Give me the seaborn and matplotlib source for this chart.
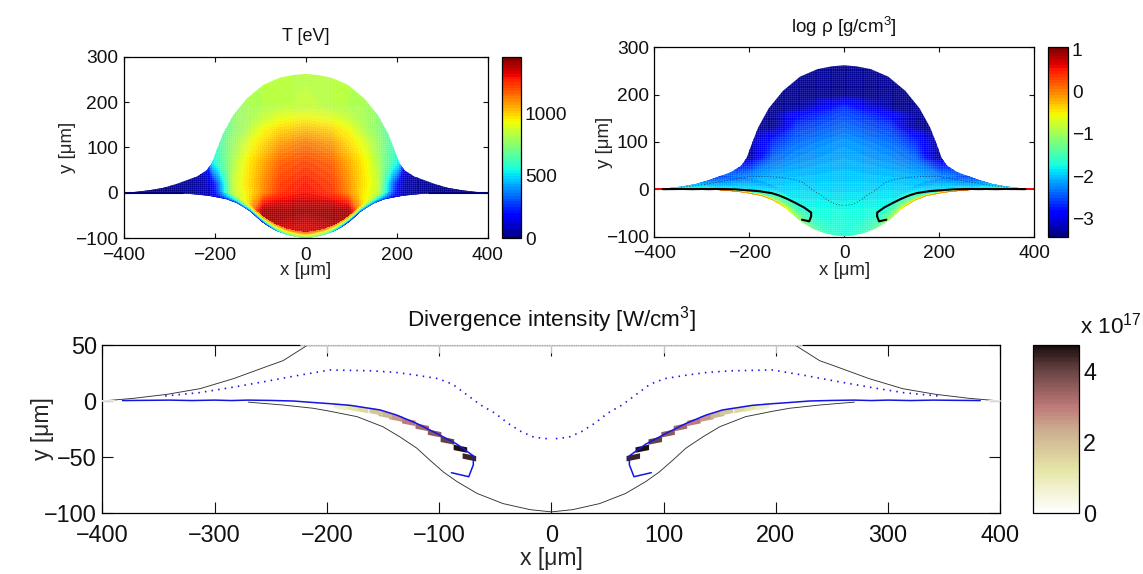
import numpy as np
import matplotlib
matplotlib.use("Agg")
import matplotlib.pyplot as plt
import seaborn as sns
from matplotlib.colors import LinearSegmentedColormap, Normalize
from matplotlib.cm import ScalarMappable
from matplotlib.patches import PathPatch
from matplotlib.path import Path

# ---------- outline of the plasma ----------
x_top = [0, 25, 56, 93, 129, 159, 181, 195, 206, 217, 239, 253, 283, 313, 342, 372, 400]
y_top = [262, 260, 254, 238, 208, 171, 131, 95, 65, 50, 36, 31, 20, 11, 6, 2.4, 0]
x_bot = [0, 19, 43, 66, 84, 96, 108, 120, 135, 150, 173, 197, 212, 239, 270, 330, 400]
y_bot = [-99, -97, -91.6, -82.6, -72, -63.5, -53, -42, -32, -23, -14, -9.2, -6.5, -3.6, -1, 0, 0]

# ---------- critical surface / ablation front ----------
x_front = [382, 360, 340, 320, 300, 285, 270, 250, 230, 210, 197, 179, 152.5, 138, 120, 102, 84,
           69.5, 69.5, 73.6, 89]
y_front = [0.4, 0.6, 0.8, 0.4, 0.8, 0.4, 0.8, 0.5, 0, -1.5, -2.4, -3.9, -8, -12.5, -20, -29, -38.6,
           -49, -57, -67.6, -64]
x_dots = [344, 314, 286, 256, 227, 197, 161, 139, 120, 101, 88, 75, 63, 50, 38.5, 26.7, 15.4, 0]
y_dots = [4.5, 7.4, 11.9, 17.2, 22.6, 27.7, 27, 25.6, 23, 20, 15, 5.4, -3.6, -11, -20, -27.4, -32.4, -34]

# ---------- temperature table ----------
T_x = [0, 56, 93, 115, 133, 150, 160, 175, 190, 205, 220, 260, 330, 400]
T_y = [-100, -60, -40, 0, 22, 65, 110, 140, 165, 190, 265]
T_vals = [
    [1300, 1280, 1250, 1000, 800, 600, 500, 400, 300, 200, 100, 50, 20, 10],
    [1340, 1380, 1390, 1100, 800, 600, 500, 400, 300, 200, 100, 50, 20, 10],
    [1390, 1400, 1400, 1130, 900, 700, 600, 450, 300, 200, 100, 50, 20, 10],
    [1290, 1240, 1110, 1000, 930, 870, 810, 580, 310, 120, 60, 30, 15, 10],
    [1270, 1220, 1100, 1010, 950, 885, 840, 600, 350, 150, 60, 30, 15, 10],
    [1210, 1170, 1060, 990, 930, 850, 800, 700, 610, 500, 150, 40, 15, 10],
    [1120, 1070, 980, 930, 880, 800, 770, 700, 630, 560, 300, 60, 20, 10],
    [1020, 985, 930, 860, 800, 770, 740, 680, 630, 560, 300, 60, 20, 10],
    [935, 905, 850, 810, 790, 770, 740, 680, 630, 560, 300, 60, 20, 10],
    [850, 830, 815, 800, 790, 770, 740, 680, 630, 560, 300, 60, 20, 10],
    [830, 825, 820, 810, 800, 770, 740, 680, 630, 560, 300, 60, 20, 10],
]
# thin layer above the lower edge, columns at x_bot
layer_d = [0, 3, 7, 12]
T_layer = [
    [700, 690, 600, 300, 120, 110, 130, 180, 220, 220, 180, 110, 70, 40, 20, 10, 10],
    [780, 760, 700, 500, 350, 300, 300, 350, 380, 360, 300, 150, 80, 40, 20, 10, 10],
    [950, 930, 880, 800, 700, 650, 650, 650, 620, 560, 430, 180, 90, 40, 20, 10, 10],
    [1150, 1130, 1100, 1050, 1050, 1050, 1030, 980, 880, 760, 520, 220, 90, 40, 20, 10, 10],
]

# ---------- density table ----------
R_x = [0, 100, 150, 200, 250, 300, 400]
R_y = [-100, -50, 0, 30, 60, 65, 100, 120, 130, 160, 170, 190, 197, 265]
R_vals = [
    [-1.65, -1.65, -1.6, -1.6, -1.6, -1.6, -1.6],
    [-1.72, -1.7, -1.7, -1.7, -1.7, -1.7, -1.7],
    [-1.92, -1.9, -1.92, -1.95, -1.95, -2.0, -2.4],
    [-2.0, -2.05, -2.1, -2.3, -2.45, -2.6, -2.7],
    [-2.08, -2.2, -2.35, -2.9, -2.9, -2.9, -2.9],
    [-2.1, -2.23, -2.38, -3.3, -3.3, -3.3, -3.3],
    [-2.2, -2.4, -2.7, -3.3, -3.3, -3.3, -3.3],
    [-2.32, -2.52, -2.95, -3.3, -3.3, -3.3, -3.3],
    [-2.38, -2.6, -3.3, -3.3, -3.3, -3.3, -3.3],
    [-2.55, -2.9, -3.3, -3.3, -3.3, -3.3, -3.3],
    [-2.62, -3.3, -3.3, -3.3, -3.3, -3.3, -3.3],
    [-2.95, -3.3, -3.3, -3.3, -3.3, -3.3, -3.3],
    [-3.3, -3.3, -3.3, -3.3, -3.3, -3.3, -3.3],
    [-3.3, -3.3, -3.3, -3.3, -3.3, -3.3, -3.3],
]
R_layer_d = [0, 3, 9, 18, 30]
R_layer = [
    [-1.65, -1.65, -1.5, -1.3, -1.1, -1.0, -0.8, -0.5, -0.3, -0.2, -0.1, 0.0, 0.0, 0.1, 0.3, 0.5, 0.6],
    [-1.68, -1.65, -1.55, -1.4, -1.25, -1.15, -1.05, -1.0, -1.0, -1.2, -1.5, -1.7, -1.75, -1.8, -1.8, -1.8, -1.8],
    [-1.7, -1.67, -1.6, -1.5, -1.35, -1.3, -1.25, -1.25, -1.35, -1.5, -1.8, -1.9, -1.9, -1.95, -2.0, -2.0, -2.0],
    [-1.7, -1.68, -1.65, -1.6, -1.55, -1.5, -1.5, -1.55, -1.65, -1.8, -1.95, -2.0, -2.05, -2.2, -2.3, -2.4, -2.4],
    [-1.7, -1.7, -1.7, -1.7, -1.72, -1.75, -1.8, -1.85, -1.95, -2.1, -2.2, -2.3, -2.4, -2.5, -2.7, -2.9, -2.9],
]

# ---------- divergence intensity cells ----------
x_cell = [-73, -81, -92.6, -104, -115, -127, -138.6, -148, -156, -169, -178, -188]
y_cell = [-50.3, -42.6, -35.4, -29, -23.5, -18.8, -15, -12.2, -9.5, -7.4, -6, -5]
x_cell_r = [73, 81, 92.6, 104, 115, 127, 138.6, 148, 156, 169, 178, 188]
q_cell = [4.4, 4.7, 4.0, 3.6, 3.3, 3.0, 2.6, 2.2, 1.9, 1.5, 1.2, 0.8]

# ---------- ticks and labels ----------
xt_top = [-400, -200, 0, 200, 400]
yt_top = [-100, 0, 100, 200, 300]
xt_bot = [-400, -300, -200, -100, 0, 100, 200, 300, 400]
yt_bot = [-100, -50, 0, 50]
xt_faint = [-200, -100, 0, 100, 200]
xlab = "x [\u03bcm]"
ylab = "y [\u03bcm]"

sns.set_theme(style="ticks")
plt.rcParams["font.family"] = ["Liberation Sans", "DejaVu Sans"]
plt.rcParams["mathtext.fontset"] = "custom"
plt.rcParams["mathtext.rm"] = "Liberation Sans"
plt.rcParams["mathtext.default"] = "regular"
plt.rcParams["axes.linewidth"] = 0.9
plt.rcParams["text.color"] = "#111111"

W, H = 1143, 574
fig = plt.figure(figsize=(W / 100, H / 100), dpi=100)


def axpx(l, t, r, b):
    return fig.add_axes([l / W, 1 - b / H, (r - l) / W, (b - t) / H])


jet = matplotlib.colormaps["jet"].resampled(64)
cm_q = LinearSegmentedColormap.from_list(
    "q", [(0, "#ffffff"), (0.25, "#e6e6a8"), (0.49, "#cdae90"), (0.64, "#bd7878"),
          (0.85, "#6a4444"), (1, "#1c0f0f")], N=64)


def style(ax, xt, yt, yl, fs, ticklen, padx):
    ax.set_xticks(xt)
    ax.set_yticks(yt)
    ax.tick_params(direction="in", top=True, right=True, length=ticklen, width=0.8,
                   labelsize=fs, colors="#111111")
    ax.tick_params(axis="x", pad=padx)
    ax.tick_params(axis="y", pad=4)
    for s in ax.spines.values():
        s.set_visible(True)
        s.set_color("black")
    ax.set_xlim(-400, 400)
    ax.set_ylim(yl)
    ax.set_xlabel("")
    ax.set_ylabel("")


def outline():
    xs = [-v for v in x_top[::-1]] + x_top[1:]
    ys = y_top[::-1] + y_top[1:]
    xb = x_bot[::-1] + [-v for v in x_bot[1:]]
    yb = y_bot[::-1] + y_bot[1:]
    return Path(np.column_stack([xs + xb, ys + yb]), closed=False)


def field(ax, xs, ys, table, d, layer, norm):
    xs = np.array(xs, float)
    tab = np.array(table, float)
    X = np.concatenate([-xs[:0:-1], xs])
    Z = np.hstack([tab[:, :0:-1], tab])
    lev = np.linspace(norm.vmin, norm.vmax, 65)
    patch = PathPatch(outline(), transform=ax.transData, fc="none", ec="none")
    ax.add_patch(patch)
    cs = ax.contourf(X, ys, Z, levels=lev, cmap=jet, norm=norm, extend="both")
    cs.set_clip_path(patch)
    xb = np.array(x_bot, float)
    yb = np.array(y_bot, float)
    lay = np.array(layer, float)
    XB = np.concatenate([-xb[:0:-1], xb])
    YB = np.concatenate([yb[:0:-1], yb])
    ZL = np.hstack([lay[:, :0:-1], lay])
    XX = np.tile(XB, (len(d), 1))
    YY = np.array([YB + v for v in d])
    cl = ax.contourf(XX, YY, ZL, levels=lev, cmap=jet, norm=norm, extend="both")
    cl.set_clip_path(patch)
    # faint white computational mesh laid over the field
    v = ax.vlines(np.arange(-400, 401, 4.5), -100, 300, color="white", lw=0.4, alpha=0.16, zorder=1.5)
    h = ax.hlines(np.arange(-100, 301, 4.5), -400, 400, color="white", lw=0.4, alpha=0.16, zorder=1.5)
    v.set_clip_path(patch)
    h.set_clip_path(patch)


def cbar(ax, norm, cmap, ticks, fs, ticklen):
    fig.colorbar(ScalarMappable(norm=norm, cmap=cmap), cax=ax, ticks=ticks)
    ax.tick_params(direction="in", length=ticklen, width=0.7, labelsize=fs, pad=3,
                   colors="#111111", left=True, right=True)
    ax.minorticks_off()
    ax.spines["outline"].set_visible(True)
    ax.spines["outline"].set_linewidth(0.9)
    ax.spines["outline"].set_color("black")


def line(ax, x, y, **kw):
    sns.lineplot(x=x, y=y, ax=ax, sort=False, estimator=None, legend=False, **kw)


# ---------- temperature ----------
ax1 = axpx(123.5, 56.7, 487.7, 238.3)
nT = Normalize(0, 1450)
field(ax1, T_x, T_y, T_vals, layer_d, T_layer, nT)
line(ax1, [-400, -270], [0, 0], color="#00007f", lw=1.5)
line(ax1, [270, 400], [0, 0], color="#00007f", lw=1.5)
style(ax1, xt_top, yt_top, (-100, 300), 13.8, 3.5, 6)
ax1.set_title("T [eV]", fontsize=13, pad=11)
ax1.set_xlabel(xlab, fontsize=13.4, labelpad=-1)
ax1.set_ylabel(ylab, fontsize=13.4, labelpad=-1)
c1 = axpx(501.7, 56.7, 520.7, 238.3)
cbar(c1, nT, jet, [0, 500, 1000], 13.8, 2)

# ---------- density ----------
ax2 = axpx(654.3, 47.3, 1034, 236.7)
nR = Normalize(-3.43, 1.05)
field(ax2, R_x, R_y, R_vals, R_layer_d, R_layer, nR)
line(ax2, [-400, -265], [0, 0], color="red", lw=1.4)
line(ax2, [265, 400], [0, 0], color="red", lw=1.4)
for sgn in (-1, 1):
    line(ax2, [sgn * v for v in x_front], y_front, color="black", lw=1.5)
    line(ax2, [sgn * v for v in x_dots], y_dots, color="#222222", lw=0.6, linestyle=(0, (1, 2.5)))
style(ax2, xt_top, yt_top, (-100, 300), 13.8, 3.5, 6)
ax2.set_title("log \u03c1 [g/cm$^3$]", fontsize=13.5, pad=10)
ax2.set_xlabel(xlab, fontsize=13.4, labelpad=0)
ax2.set_ylabel(ylab, fontsize=13.4, labelpad=-5)
c2 = axpx(1048.3, 47.3, 1067.7, 236.7)
cbar(c2, nR, jet, [-3, -2, -1, 0, 1], 13.8, 2)

# ---------- divergence ----------
ax3 = axpx(102.3, 345, 1000.4, 513)
nQ = Normalize(0, 4.73)
left_shape = Path([(-.5, .3), (.5, .1), (.5, -.3), (-.5, -.1), (-.5, .3)], closed=True)
right_shape = Path([(-.5, .1), (.5, .3), (.5, -.1), (-.5, -.3), (-.5, .1)], closed=True)
sns.scatterplot(x=x_cell, y=y_cell, hue=q_cell, palette=cm_q, hue_norm=nQ, marker=left_shape,
                s=95, linewidth=0, ax=ax3, legend=False, zorder=2)
sns.scatterplot(x=x_cell_r, y=y_cell, hue=q_cell, palette=cm_q, hue_norm=nQ, marker=right_shape,
                s=95, linewidth=0, ax=ax3, legend=False, zorder=2)
for sgn in (-1, 1):
    line(ax3, [sgn * v for v in x_bot[:15]], y_bot[:15], color="#333333", lw=0.65, zorder=3)
    line(ax3, [sgn * v for v in x_top], y_top, color="#333333", lw=0.65, zorder=3)
    line(ax3, [sgn * v for v in x_front], y_front, color="#1414e6", lw=1.1, zorder=4)
    line(ax3, [sgn * v for v in x_dots], y_dots, color="#1414e6", lw=1.2,
         linestyle=(0, (0.9, 3.1)), zorder=4)
style(ax3, xt_bot, yt_bot, (-100, 50), 16.8, 8, 8)
# faint stretch of the upper frame between the two outline crossings
line(ax3, [-223, 223], [50, 50], color="white", lw=1.2, zorder=6, clip_on=False)
line(ax3, [-223, 223], [50, 50], color="#999999", lw=0.7, linestyle=(0, (1, 1.5)), zorder=7, clip_on=False)
ax3.vlines(xt_faint, 43, 50, color="white", lw=1, alpha=0.75, zorder=6)
line(ax3, [-400, -390], [0, 0], color="white", lw=1.2, zorder=6, clip_on=False)
line(ax3, [390, 400], [0, 0], color="white", lw=1.2, zorder=6, clip_on=False)
ax3.set_title("Divergence intensity [W/cm$^3$]", fontsize=16.2, pad=13)
ax3.set_xlabel(xlab, fontsize=16.6, labelpad=0)
ax3.set_ylabel(ylab, fontsize=16.6, labelpad=-7)
c3 = axpx(1033, 345, 1079, 513)
cbar(c3, nQ, cm_q, [0, 2, 4], 16.8, 4)
fig.text(1080 / W, 1 - 326 / H, "x 10$^{17}$", fontsize=16.2, va="center", ha="left")

fig.savefig("out.png", dpi=100)
